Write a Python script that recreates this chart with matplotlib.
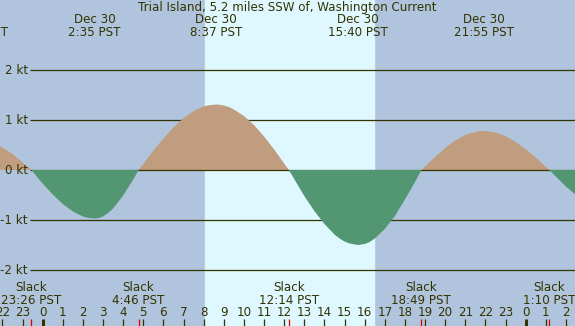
"""
Tide current chart: Trial Island, Dec 30
"""
import matplotlib
matplotlib.use('Agg')
import matplotlib.pyplot as plt
import matplotlib.transforms as mtransforms

# ----------------------------- data ---------------------------------------#
# hours relative to Dec 30 00:00 PST, current in knots
hours = [-2.12, -2.0, -1.5, -1.0, -0.567, 0.0, 0.5, 1.0, 1.5, 2.0, 2.25, 2.583,
         2.75, 3.0, 3.25, 3.5, 4.0, 4.5, 4.767, 5.0, 5.5, 6.0, 6.5, 7.0, 7.5,
         7.75, 8.0, 8.25, 8.617, 8.75, 9.0, 9.25, 9.5, 10.0, 10.5, 11.0, 11.5,
         12.0, 12.233, 12.5, 13.0, 13.5, 14.0, 14.5, 14.75, 15.0, 15.25,
         15.667, 16.0, 16.25, 16.5, 17.0, 17.5, 18.0, 18.5, 18.817, 19.0,
         19.5, 20.0, 20.5, 21.0, 21.5, 21.75, 21.917, 22.25, 22.5, 23.0,
         23.5, 24.0, 24.5, 25.0, 25.167, 25.5, 26.0, 26.5]
knots = [0.48, 0.45, 0.32, 0.15, 0.0, -0.27, -0.49, -0.68, -0.83, -0.93, -0.956, -0.97,
         -0.963, -0.93, -0.86, -0.77, -0.51, -0.19, 0.0, 0.12, 0.39, 0.63, 0.85, 1.04, 1.18,
         1.23, 1.27, 1.295, 1.31, 1.307, 1.29, 1.26, 1.21, 1.08, 0.90, 0.67, 0.41,
         0.13, 0.0, -0.18, -0.52, -0.82, -1.08, -1.29, -1.37, -1.43, -1.47,
         -1.50, -1.48, -1.44, -1.37, -1.18, -0.92, -0.59, -0.24, 0.0, 0.07,
         0.26, 0.44, 0.59, 0.70, 0.76, 0.779, 0.78, 0.77, 0.75, 0.68,
         0.56, 0.42, 0.25, 0.06, 0.0, -0.13, -0.33, -0.50]

max_hours = [-3.22, 2.583, 8.617, 15.667, 21.917]
max_labels = ['Dec 29\n20:47 PST', 'Dec 30\n2:35 PST', 'Dec 30\n8:37 PST',
              'Dec 30\n15:40 PST', 'Dec 30\n21:55 PST']
slack_hours = [-0.567, 4.767, 12.233, 18.817, 25.167]
slack_labels = ['Slack\n23:26 PST', 'Slack\n4:46 PST', 'Slack\n12:14 PST',
                'Slack\n18:49 PST', 'Slack\n1:10 PST']
sunrise, sunset = 8.06, 16.46
grid_kt = [2, 1, -1, -2]
grid_labels = ['2 kt', '1 kt', '-1 kt', '-2 kt']
tick_hours = list(range(-2, 27))
tick_labels = [str(h % 24) for h in tick_hours]

title = 'Trial Island, 5.2 miles SSW of, Washington Current'

# ----------------------------- style --------------------------------------#
night = '#b0c4de'
day = '#dff7ff'
flood = '#bf9d7e'
ebb = '#529672'
ink = '#333300'
fs = 8.6

fig = plt.figure(figsize=(5.75, 3.26), dpi=100)
ax = fig.add_axes([0, 0, 1, 1])
ax.set_xlim(-2.12, 26.45)
ax.set_ylim(-3.12, 3.4)
ax.axis('off')
fig.patch.set_facecolor(night)

ax.axvspan(sunrise, sunset, color=day, zorder=0)

# grid lines start a bit right of the labels
xlab = ax.get_xlim()[0] + 30 / 20.125
for kt, lab in zip(grid_kt, grid_labels):
    ax.hlines(kt, xlab, ax.get_xlim()[1], color=ink, lw=0.9, zorder=1)
    ax.text(xlab - 0.1, kt, lab, ha='right', va='center', fontsize=fs, color=ink)

ax.fill_between(hours, knots, 0, where=[k >= 0 for k in knots],
                interpolate=True, color=flood, lw=0, zorder=2)
ax.hlines(0, xlab, ax.get_xlim()[1], color=ink, lw=0.9, zorder=3)
ax.text(xlab - 0.1, 0, '0 kt', ha='right', va='center', fontsize=fs, color=ink, zorder=3)
ax.fill_between(hours, knots, 0, where=[k <= 0 for k in knots],
                interpolate=True, color=ebb, lw=0, zorder=4)

trans = mtransforms.blended_transform_factory(ax.transData, ax.transAxes)

# top labels
ax.text(0.5, 1 - 8 / 326, title, transform=ax.transAxes, ha='center',
        va='center', fontsize=fs, color=ink)
for h, lab in zip(max_hours, max_labels):
    ax.text(h, 1 - 26 / 326, lab, transform=trans, ha='center', va='center',
            fontsize=fs, color=ink, linespacing=1.0)

# bottom labels
for h, lab in zip(slack_hours, slack_labels):
    ax.text(h, 32 / 326, lab, transform=trans, ha='center', va='center',
            fontsize=fs, color=ink, linespacing=1.0)
for h, lab in zip(tick_hours, tick_labels):
    ax.text(h, 14 / 326, lab, transform=trans, ha='center', va='center',
            fontsize=fs, color=ink)
    lw = 2.2 if h % 24 == 0 else 0.9
    ax.vlines(h, 0, 7 / 326, transform=trans, color=ink, lw=lw)
ax.vlines(slack_hours, 0, 7 / 326, transform=trans, color='#dd0000', lw=0.9)

fig.savefig('out.png', dpi=100, facecolor=night)
